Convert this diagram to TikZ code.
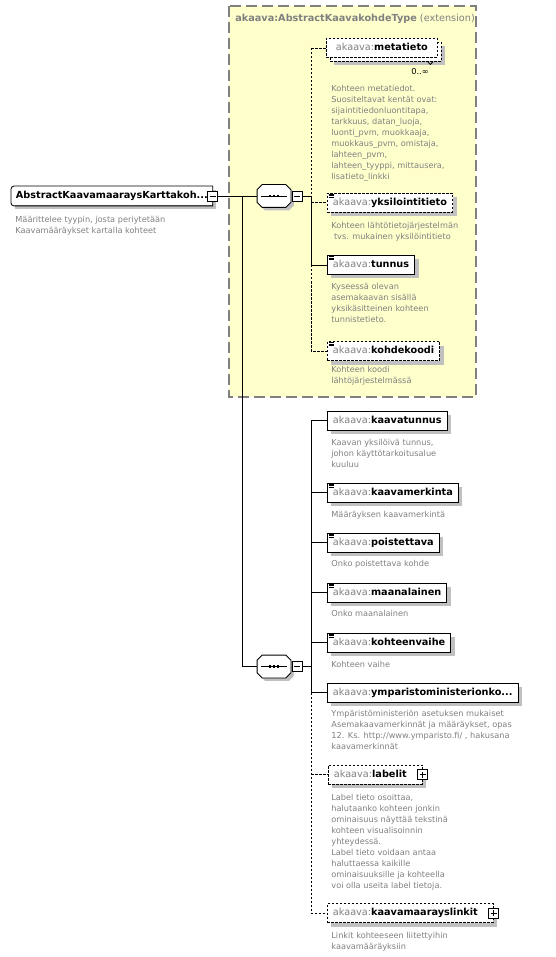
\documentclass[tikz,border=0pt]{standalone}
\usepackage{fontspec}
\setmainfont{DejaVu Sans}
\usetikzlibrary{positioning, calc, shadows}

\definecolor{extyellow}{RGB}{255,255,204}
\definecolor{extgrey}{RGB}{128,128,128}
\definecolor{nsgrey}{RGB}{128,128,128}
\definecolor{docgrey}{RGB}{128,128,128}
\definecolor{shadowgrey}{RGB}{192,192,192}

\newcommand{\elemfont}{\fontsize{9.7}{11}\selectfont}
\newcommand{\docfont}{\fontsize{8.2}{10.9}\selectfont}
\newcommand{\ns}[1]{\textcolor{nsgrey}{akaava:}\textbf{#1}}
\newcommand{\togglegap}{\hbox to 10pt{}}

\tikzset{
  elembox/.style={draw, fill=white, anchor=west, minimum height=19pt, inner xsep=5.5pt, inner ysep=0pt,
    text height=7.6pt, text depth=2.2pt, font=\elemfont},
  shadowed/.style={drop shadow={shadow xshift=4pt, shadow yshift=-4pt, fill=shadowgrey, opacity=1}},
  optional/.style={dash pattern=on 2.5pt off 1.5pt},
  docnote/.style={anchor=north west, align=left, inner sep=0pt, font=\docfont, text=docgrey},
  togglebox/.style={draw, fill=white, minimum size=10pt, inner sep=0pt, line width=0.8pt},
  seqbox/.style={minimum width=33pt, minimum height=22pt, inner sep=0pt},
  extbox/.style={draw=extgrey, fill=extyellow, line width=1.1pt, dash pattern=on 11pt off 5pt},
}

% toggles and icons
\newcommand{\minusmark}[1]{\draw[line width=0.8pt] ([xshift=-3pt]#1.center) -- ([xshift=3pt]#1.center);}
\newcommand{\plusmark}[1]{\minusmark{#1}\draw[line width=0.8pt] ([yshift=-3pt]#1.center) -- ([yshift=3pt]#1.center);}
\newcommand{\simpleicon}[1]{\foreach \k in {0,1,2}
  \draw[line width=0.6pt] ([shift={(1.5pt,{-1.4pt-1.6pt*\k})}]#1.north west) -- ++(5pt,0pt);}
\newcommand{\seqshape}[1]{%
  \fill[shadowgrey, transform canvas={shift={(3pt,-3pt)}}] ([xshift=5pt]#1.north west) -- ([xshift=-5pt]#1.north east)
    -- ([yshift=-5pt]#1.north east) -- ([yshift=5pt]#1.south east) -- ([xshift=-5pt]#1.south east)
    -- ([xshift=5pt]#1.south west) -- ([yshift=5pt]#1.south west) -- ([yshift=-5pt]#1.north west) -- cycle;
  \draw[fill=white] ([xshift=5pt]#1.north west) -- ([xshift=-5pt]#1.north east)
    -- ([yshift=-5pt]#1.north east) -- ([yshift=5pt]#1.south east) -- ([xshift=-5pt]#1.south east)
    -- ([xshift=5pt]#1.south west) -- ([yshift=5pt]#1.south west) -- ([yshift=-5pt]#1.north west) -- cycle;
  \draw ([xshift=3.5pt]#1.west) -- ([xshift=-3.5pt]#1.east);
  \foreach \d in {-4,0,4}
    \fill ([xshift=\d pt]#1.center) +(-1.3pt,-1.3pt) rectangle +(1.3pt,1.3pt);}

\begin{document}
\begin{tikzpicture}[x=1pt, y=-1pt, line width=0.8pt]
  \useasboundingbox (0,0) rectangle (556,957);

  % Extension
  \draw[extbox] (229,6) rectangle (476,397);
  \node[anchor=west, inner sep=0pt, font=\elemfont, text=nsgrey] (exttitle) at (235,19)
    {\textbf{akaava:AbstractKaavakohdeType} (extension)};

  % Root element
  \node[elembox, shadowed, draw=none, inner xsep=4.5pt] (root) at (11,196) {\textbf{AbstractKaavamaaraysKarttakoh...}};
  \draw (root.north east) [rounded corners=3pt] -- (root.north west) -- (root.south west) [sharp corners] -- (root.south east) -- cycle;
  \node[togglebox] (rootm) at (root.east) {};
  \minusmark{rootm}
  \node[docnote] (rootdoc) at (15,216.2) {Määrittelee tyypin, josta periytetään\\Kaavamääräykset kartalla kohteet};

  % Sequences
  \node[seqbox] (seq1) at (274,196) {};
  \seqshape{seq1}
  \node[togglebox, anchor=west] (seq1m) at ([xshift=1pt]seq1.east) {};
  \minusmark{seq1m}
  \node[seqbox] (seq2) at (274,666.5) {};
  \seqshape{seq2}
  \node[togglebox, anchor=west] (seq2m) at ([xshift=1pt]seq2.east) {};
  \minusmark{seq2m}
  \coordinate (trunk) at (242,196);
  \coordinate (spine1) at (311,196);
  \coordinate (spine2) at (311,666.5);

  % Inherited children
  \node[elembox, optional, shadowed, minimum width=111pt] (metab) at (330,52) {};
  \draw ([xshift=-14pt]metab.south east) -- ++(2.5pt,-2.5pt) -- ++(2.5pt,2.5pt);
  \node[elembox, optional, minimum width=111pt] (meta) at (326,48) {\ns{metatieto}};
  \node[inner sep=0pt, anchor=east, font=\docfont] (metaocc) at (429,72) {0..∞};
  \node[docnote] (metadoc) at (331,85.2) {Kohteen metatiedot.\\Suositeltavat kentät ovat:\\sijaintitiedonluontitapa,\\tarkkuus, datan\_luoja,\\luonti\_pvm, muokkaaja,\\muokkaus\_pvm, omistaja,\\lahteen\_pvm,\\lahteen\_tyyppi, mittausera,\\lisatieto\_linkki};

  \node[elembox, optional, shadowed] (yks) at (327,202.5) {\ns{yksilointitieto}};
  \simpleicon{yks}
  \node[docnote] (yksdoc) at (331,222.2) {Kohteen lähtötietojärjestelmän\\\ tvs. mukainen yksilöintitieto};

  \node[elembox, shadowed] (tun) at (327,265) {\ns{tunnus}};
  \simpleicon{tun}
  \node[docnote] (tundoc) at (331,283.2) {Kyseessä olevan\\asemakaavan sisällä\\yksikäsitteinen kohteen\\tunnistetieto.};

  \node[elembox, optional, shadowed] (kod) at (327,351) {\ns{kohdekoodi}};
  \simpleicon{kod}
  \node[docnote] (koddoc) at (331,366.2) {Kohteen koodi\\lähtöjärjestelmässä};

  % Own children
  \node[elembox, shadowed] (kt) at (327,420.5) {\ns{kaavatunnus}};
  \node[docnote] (ktdoc) at (331,439.2) {Kaavan yksilöivä tunnus,\\johon käyttötarkoitusalue\\kuuluu};

  \node[elembox, shadowed] (km) at (327,492.5) {\ns{kaavamerkinta}};
  \simpleicon{km}
  \node[docnote] (kmdoc) at (331,511.2) {Määräyksen kaavamerkintä};

  \node[elembox, shadowed] (poi) at (327,542.5) {\ns{poistettava}};
  \simpleicon{poi}
  \node[docnote] (poidoc) at (331,560.2) {Onko poistettava kohde};

  \node[elembox, shadowed] (maa) at (327,592.5) {\ns{maanalainen}};
  \simpleicon{maa}
  \node[docnote] (maadoc) at (331,610.2) {Onko maanalainen};

  \node[elembox, shadowed] (kv) at (327,642.5) {\ns{kohteenvaihe}};
  \simpleicon{kv}
  \node[docnote] (kvdoc) at (331,661.2) {Kohteen vaihe};

  \node[elembox, shadowed] (ymp) at (327,692.5) {\ns{ymparistoministerionko...}};
  \node[docnote] (ympdoc) at (331,710.2) {Ympäristöministeriön asetuksen mukaiset\\Asemakaavamerkinnät ja määräykset, opas\\12. Ks. http://www.ymparisto.fi/ , hakusana\\kaavamerkinnät};

  \node[elembox, optional, shadowed] (lab) at (328,774.5) {\ns{labelit}\togglegap};
  \node[togglebox] (labp) at (lab.east) {};
  \plusmark{labp}
  \node[docnote] (labdoc) at (331,794.2) {Label tieto osoittaa,\\halutaanko kohteen jonkin\\ominaisuus näyttää tekstinä\\kohteen visualisoinnin\\yhteydessä.\\Label tieto voidaan antaa\\haluttaessa kaikille\\ominaisuuksille ja kohteella\\voi olla useita label tietoja.};

  \node[elembox, optional, shadowed] (lnk) at (327,913) {\ns{kaavamaarayslinkit}\togglegap};
  \node[togglebox] (lnkp) at (lnk.east) {};
  \plusmark{lnkp}
  \node[docnote] (lnkdoc) at (331,932.2) {Linkit kohteeseen liitettyihin\\kaavamääräyksiin};

  % Connectors
  \draw (rootm.east) -- (seq1.west);
  \draw (trunk) |- (seq2.west);
  \draw (seq1m.east) -- (spine1);
  \draw[optional] (spine1 |- meta.west) -- (meta.west);
  \draw[optional] (spine1 |- meta.west) -- (spine1);
  \draw (spine1) -- (spine1 |- tun.west) -- (tun.west);
  \draw[optional] (spine1 |- yks.west) -- (yks.west);
  \draw[optional] (spine1 |- tun.west) -- (spine1 |- kod.west) -- (kod.west);

  \draw (seq2m.east) -- (spine2);
  \draw (spine2 |- kt.west) -- (spine2 |- ymp.west);
  \foreach \n in {kt, km, poi, maa, kv, ymp}
    \draw (spine2 |- \n.west) -- (\n.west);
  \draw[optional] (spine2 |- ymp.west) -- (spine2 |- lnk.west) -- (lnk.west);
  \draw[optional] (spine2 |- lab.west) -- (lab.west);
\end{tikzpicture}
\end{document}
